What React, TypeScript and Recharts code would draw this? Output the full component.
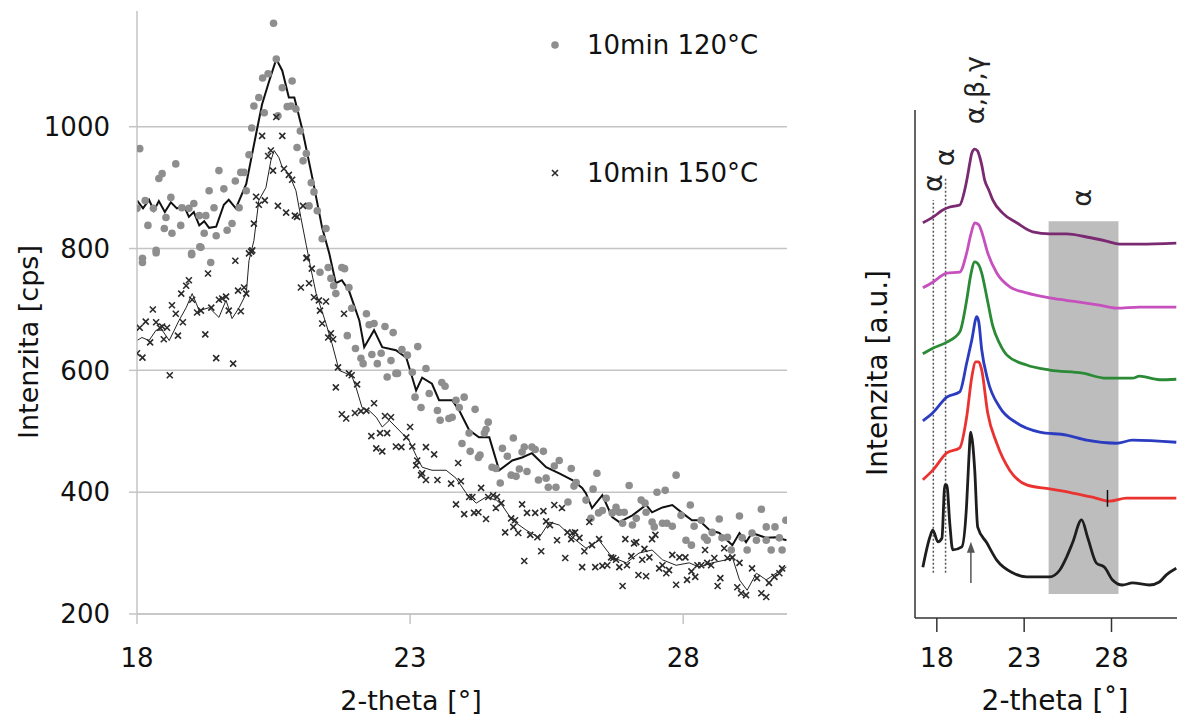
import React from "react"
import {
  ComposedChart,
  LineChart,
  Line,
  Scatter,
  XAxis,
  YAxis,
  CartesianGrid,
  Legend,
  ReferenceArea,
  ReferenceLine,
  ReferenceDot,
} from "recharts"

const FONT = "'DejaVu Sans', sans-serif"

// left panel: measured intensity [cps] against 2-theta
const dots120: [number, number][] = [
  [18.0, 866], [18.05, 964], [18.1, 784], [18.1, 777], [18.15, 879], [18.2, 838], [18.3, 866], [18.35, 797],
  [18.35, 793], [18.4, 915], [18.46, 923], [18.5, 833], [18.53, 851], [18.62, 884], [18.64, 825], [18.71, 939],
  [18.8, 838], [18.82, 867], [18.95, 866], [19.0, 792], [19.0, 790], [19.04, 874], [19.14, 854], [19.15, 803],
  [19.17, 802], [19.23, 825], [19.26, 854], [19.32, 895], [19.35, 777], [19.41, 867], [19.45, 821], [19.5, 928],
  [19.59, 898], [19.65, 830], [19.74, 841], [19.8, 911], [19.87, 867], [19.9, 925], [19.96, 925], [20.0, 895],
  [20.05, 954], [20.1, 998], [20.14, 1034], [20.23, 1048], [20.3, 1080], [20.33, 1023], [20.4, 1087], [20.5, 1170],
  [20.55, 1111], [20.58, 1018], [20.66, 1064], [20.75, 1033], [20.82, 1034], [20.84, 1075], [20.91, 1029], [20.93, 966],
  [20.99, 993], [21.04, 944], [21.1, 956], [21.15, 870], [21.19, 908], [21.24, 893], [21.3, 862], [21.35, 761],
  [21.39, 816], [21.46, 833], [21.5, 769], [21.55, 751], [21.6, 739], [21.64, 726], [21.75, 769], [21.8, 767],
  [21.85, 657], [21.88, 736], [21.93, 702], [22.0, 636], [22.1, 620], [22.14, 611], [22.2, 693], [22.25, 675],
  [22.3, 626], [22.34, 677], [22.4, 611], [22.47, 628], [22.54, 672], [22.58, 589], [22.65, 616], [22.69, 662],
  [22.74, 595], [22.77, 595], [22.85, 634], [22.95, 625], [23.04, 597], [23.09, 556], [23.14, 639], [23.2, 539],
  [23.29, 603], [23.35, 562], [23.5, 534], [23.55, 518], [23.58, 580], [23.64, 574], [23.71, 521], [23.77, 523],
  [23.84, 551], [23.9, 539], [23.95, 480], [23.99, 556], [24.08, 497], [24.1, 467], [24.19, 536], [24.25, 457],
  [24.28, 461], [24.36, 497], [24.39, 503], [24.43, 515], [24.5, 441], [24.57, 439], [24.65, 415], [24.69, 472],
  [24.78, 459], [24.85, 428], [24.89, 489], [24.94, 426], [25.0, 438], [25.05, 466], [25.09, 474], [25.14, 434],
  [25.23, 474], [25.29, 470], [25.35, 420], [25.44, 467], [25.49, 423], [25.53, 408], [25.64, 443], [25.67, 408],
  [25.73, 452], [25.89, 384], [25.95, 439], [26.0, 410], [26.04, 416], [26.22, 387], [26.31, 357], [26.35, 405],
  [26.42, 431], [26.45, 366], [26.52, 370], [26.59, 390], [26.7, 366], [26.77, 375], [26.83, 367], [26.89, 349],
  [26.92, 367], [27.01, 411], [27.07, 346], [27.14, 357], [27.23, 387], [27.3, 382], [27.32, 367], [27.43, 351],
  [27.47, 343], [27.52, 400], [27.62, 349], [27.67, 403], [27.7, 349], [27.8, 344], [27.87, 428], [27.96, 362],
  [28.05, 321], [28.13, 379], [28.15, 313], [28.2, 344], [28.33, 354], [28.39, 326], [28.44, 321], [28.53, 334],
  [28.66, 356], [28.71, 325], [28.81, 326], [28.88, 305], [29.03, 361], [29.08, 325], [29.17, 305], [29.26, 333],
  [29.34, 321], [29.43, 372], [29.52, 343], [29.52, 321], [29.61, 305], [29.68, 343], [29.76, 325], [29.81, 305],
  [29.88, 354],
]

const crosses150: [number, number][] = [
  [18.0, 628], [18.05, 670], [18.1, 621], [18.16, 680], [18.24, 646], [18.29, 700], [18.35, 679], [18.42, 670],
  [18.46, 672], [18.49, 651], [18.55, 670], [18.6, 592], [18.64, 707], [18.71, 693], [18.75, 657], [18.81, 726],
  [18.84, 679], [18.9, 739], [18.95, 748], [19.01, 716], [19.1, 695], [19.17, 698], [19.25, 659], [19.3, 759],
  [19.36, 703], [19.45, 620], [19.5, 716], [19.56, 718], [19.63, 721], [19.68, 698], [19.76, 611], [19.8, 780],
  [19.85, 731], [19.9, 697], [19.96, 736], [20.0, 726], [20.05, 792], [20.09, 795], [20.11, 797], [20.14, 841],
  [20.18, 885], [20.23, 872], [20.29, 985], [20.34, 879], [20.4, 952], [20.45, 961], [20.49, 928], [20.55, 1016],
  [20.58, 870], [20.66, 985], [20.69, 931], [20.73, 859], [20.78, 921], [20.84, 913], [20.89, 854], [20.93, 852],
  [21.0, 736], [21.04, 870], [21.1, 784], [21.11, 785], [21.15, 743], [21.2, 767], [21.24, 720], [21.33, 715],
  [21.35, 698], [21.39, 677], [21.46, 713], [21.5, 654], [21.55, 661], [21.59, 651], [21.64, 572], [21.68, 605],
  [21.75, 528], [21.79, 693], [21.83, 521], [21.88, 595], [21.93, 592], [21.99, 530], [22.03, 577], [22.1, 533],
  [22.2, 534], [22.29, 492], [22.34, 546], [22.38, 472], [22.45, 497], [22.49, 467], [22.54, 525], [22.58, 497],
  [22.65, 523], [22.74, 475], [22.84, 474], [22.93, 490], [23.0, 507], [23.04, 475], [23.11, 444], [23.13, 452],
  [23.2, 428], [23.22, 431], [23.29, 474], [23.29, 420], [23.44, 462], [23.5, 420], [23.75, 414], [23.84, 380],
  [23.88, 448], [23.93, 418], [23.99, 364], [24.08, 392], [24.14, 392], [24.17, 366], [24.25, 367], [24.3, 407],
  [24.39, 356], [24.43, 392], [24.52, 395], [24.57, 374], [24.59, 392], [24.67, 382], [24.74, 334], [24.85, 357],
  [24.89, 343], [24.92, 354], [24.98, 333], [25.05, 380], [25.09, 287], [25.14, 366], [25.2, 330], [25.29, 366],
  [25.33, 326], [25.4, 303], [25.44, 369], [25.49, 352], [25.56, 346], [25.64, 379], [25.69, 321], [25.78, 374],
  [25.84, 292], [25.88, 334], [25.95, 323], [25.97, 333], [26.02, 334], [26.1, 325], [26.15, 277], [26.19, 303],
  [26.28, 351], [26.33, 313], [26.39, 277], [26.46, 323], [26.52, 279], [26.61, 280], [26.68, 293], [26.72, 292],
  [26.77, 289], [26.83, 277], [26.89, 246], [26.94, 323], [26.97, 280], [27.05, 295], [27.1, 316], [27.14, 318],
  [27.18, 264], [27.25, 289], [27.29, 307], [27.32, 262], [27.38, 293], [27.43, 323], [27.49, 330], [27.56, 275],
  [27.62, 280], [27.69, 267], [27.74, 272], [27.8, 297], [27.87, 248], [27.93, 293], [28.04, 293], [28.07, 256],
  [28.15, 270], [28.22, 261], [28.26, 280], [28.33, 280], [28.4, 305], [28.44, 284], [28.51, 280], [28.57, 292],
  [28.63, 246], [28.68, 259], [28.75, 308], [28.81, 292], [28.9, 293], [28.99, 244], [29.03, 284], [29.06, 234],
  [29.15, 231], [29.26, 275], [29.35, 259], [29.43, 234], [29.52, 228], [29.57, 251], [29.67, 261], [29.76, 267],
  [29.81, 275],
]

// smoothed traces drawn through the scatter
const trend120: [number, number][] = [
  [18.0, 879], [18.11, 866], [18.22, 880], [18.31, 862], [18.4, 878], [18.51, 860], [18.62, 876], [18.73, 866],
  [18.86, 870], [18.95, 852], [19.04, 860], [19.14, 838], [19.23, 845], [19.32, 834], [19.45, 836], [19.59, 872],
  [19.68, 880], [19.81, 866], [20.0, 906], [20.18, 988], [20.29, 1037], [20.42, 1075], [20.55, 1111], [20.66, 1092],
  [20.78, 1048], [20.88, 1048], [21.02, 998], [21.21, 916], [21.39, 834], [21.52, 792], [21.64, 743], [21.75, 748],
  [21.88, 731], [22.07, 682], [22.16, 638], [22.34, 666], [22.49, 638], [22.74, 633], [22.93, 621], [23.11, 567],
  [23.22, 588], [23.4, 578], [23.53, 551], [23.77, 551], [23.9, 534], [24.08, 502], [24.26, 490], [24.45, 490],
  [24.63, 436], [24.87, 452], [25.05, 457], [25.23, 464], [25.49, 441], [25.73, 431], [25.97, 420], [26.15, 407],
  [26.22, 398], [26.33, 374], [26.52, 395], [26.7, 359], [26.83, 351], [27.07, 362], [27.32, 379], [27.43, 367],
  [27.62, 375], [27.8, 379], [27.98, 366], [28.16, 354], [28.29, 354], [28.48, 338], [28.66, 333], [28.9, 313],
  [29.03, 333], [29.15, 318], [29.26, 333], [29.52, 325], [29.7, 326], [29.89, 321],
]

const trend150: [number, number][] = [
  [18.0, 649], [18.09, 654], [18.22, 649], [18.35, 666], [18.46, 666], [18.59, 649], [18.77, 682], [18.9, 703],
  [19.01, 726], [19.14, 698], [19.32, 703], [19.5, 687], [19.63, 715], [19.74, 685], [19.87, 703], [20.0, 726],
  [20.05, 780], [20.14, 813], [20.23, 879], [20.36, 900], [20.45, 944], [20.51, 961], [20.6, 949], [20.66, 933],
  [20.78, 923], [20.91, 895], [21.0, 851], [21.1, 805], [21.19, 764], [21.28, 726], [21.46, 677], [21.57, 644],
  [21.7, 600], [21.83, 595], [21.94, 589], [22.01, 572], [22.12, 539], [22.25, 534], [22.38, 523], [22.49, 507],
  [22.62, 518], [22.74, 507], [22.85, 497], [22.98, 485], [23.11, 460], [23.22, 441], [23.4, 436], [23.66, 436],
  [23.84, 423], [24.03, 398], [24.21, 382], [24.39, 392], [24.58, 387], [24.68, 379], [24.87, 354], [25.12, 338],
  [25.36, 325], [25.55, 351], [25.73, 346], [25.97, 326], [26.22, 308], [26.46, 321], [26.7, 293], [26.96, 284],
  [27.19, 300], [27.43, 305], [27.62, 289], [27.87, 280], [28.11, 284], [28.29, 277], [28.53, 284], [28.79, 289],
  [28.9, 293], [29.03, 256], [29.17, 239], [29.34, 267], [29.52, 256], [29.7, 267], [29.89, 277],
]

const leftTicksX = [18, 23, 28]
const leftTicksY = [200, 400, 600, 800, 1000]

// right panel: stacked diffractograms, arbitrary units
const curvePurple: [number, number][] = [
  [17.2, 77.8], [17.77, 78.9], [18.34, 80.3], [18.74, 80.9], [19.31, 81.3], [19.6, 84.3], [19.77, 87.2], [19.89, 89.6],
  [20.0, 91.5], [20.17, 92.3], [20.34, 91.9], [20.46, 90.7], [20.57, 89.2], [20.74, 86.2], [20.97, 84.3], [21.2, 82.3],
  [21.77, 79.7], [22.57, 77.8], [23.49, 76.0], [24.46, 75.6], [25.43, 75.6], [26.57, 75.0], [27.71, 74.2], [28.46, 73.6],
  [29.6, 73.6], [31.71, 73.8],
]
const curveMagenta: [number, number][] = [
  [17.2, 65.0], [17.77, 66.1], [18.57, 67.9], [19.31, 68.1], [19.71, 71.9], [19.94, 75.4], [20.17, 77.8], [20.4, 77.4],
  [20.57, 76.0], [20.91, 71.9], [21.43, 67.9], [22.17, 65.2], [23.14, 64.0], [24.46, 63.0], [26.17, 62.2], [27.31, 61.6],
  [28.29, 61.0], [29.6, 61.2], [31.71, 61.2],
]
const curveGreen: [number, number][] = [
  [17.2, 52.0], [17.77, 53.1], [18.57, 54.3], [19.31, 56.3], [19.71, 62.6], [19.94, 67.5], [20.17, 70.1], [20.4, 69.5],
  [20.57, 67.9], [20.86, 63.2], [21.2, 57.5], [21.6, 54.0], [22.0, 51.8], [23.14, 49.8], [24.46, 48.8], [26.34, 48.2],
  [27.71, 47.2], [29.2, 47.2], [29.6, 47.6], [30.74, 46.9], [31.71, 47.0],
]
const curveBlue: [number, number][] = [
  [17.2, 38.8], [17.77, 40.4], [18.57, 43.5], [19.31, 44.5], [19.71, 50.2], [20.0, 54.7], [20.29, 59.3], [20.4, 58.3],
  [20.57, 52.8], [20.91, 46.9], [21.6, 41.5], [22.57, 38.4], [23.89, 36.6], [25.43, 36.0], [26.57, 35.0], [28.29, 34.4],
  [29.2, 35.0], [31.71, 34.6],
]
const curveRed: [number, number][] = [
  [17.2, 27.2], [17.77, 29.1], [18.57, 32.5], [19.31, 33.5], [19.71, 39.6], [20.0, 47.4], [20.23, 50.4], [20.4, 50.4],
  [20.57, 48.8], [20.91, 40.4], [21.43, 34.4], [22.17, 29.1], [23.14, 26.2], [24.46, 25.4], [25.77, 24.6], [26.91, 23.8],
  [27.89, 23.0], [28.86, 23.6], [31.71, 23.6],
]
const curveBlack: [number, number][] = [
  [17.2, 10.0], [17.6, 15.9], [17.77, 17.3], [18.06, 15.0], [18.29, 15.7], [18.46, 26.2], [18.57, 26.2], [18.74, 18.7],
  [18.91, 13.4], [19.43, 14.0], [19.71, 22.6], [19.83, 31.1], [19.94, 36.6], [20.06, 34.1], [20.17, 29.1], [20.34, 17.9],
  [20.86, 14.8], [21.43, 11.4], [22.34, 8.9], [23.14, 8.1], [24.46, 8.1], [25.03, 9.4], [25.43, 12.0], [25.77, 14.8],
  [26.29, 19.3], [26.63, 15.9], [27.14, 10.8], [27.6, 10.0], [28.06, 7.5], [28.63, 6.5], [29.2, 6.9], [30.17, 6.5],
  [30.74, 7.1], [31.14, 8.5], [31.71, 9.8],
]
const rightTicksX = [18, 23, 28]

const pts = (arr: [number, number][]) => arr.map(([x, y]) => ({ x, y }))

const Dot120 = (p: any) => <circle cx={p.cx} cy={p.cy} r={3.8} fill="#8e8e8e" />
const Cross150 = (p: any) => (
  <path
    d={`M${p.cx - 3},${p.cy - 3}L${p.cx + 3},${p.cy + 3}M${p.cx - 3},${p.cy + 3}L${p.cx + 3},${p.cy - 3}`}
    stroke="#2b2b2b"
    strokeWidth={1.6}
  />
)

function LeftLegend(props: any) {
  const items = (props.payload || []).filter((e: any) => e.type !== "none")
  return (
    <svg width={260} height={190}>
      {items.map((e: any, i: number) => {
        const cy = 23 + i * 128
        return (
          <g key={e.value}>
            {e.type === "circle" ? (
              <circle cx={15} cy={cy} r={3.8} fill="#8e8e8e" />
            ) : (
              <path d={`M12,${cy - 3}L18,${cy + 3}M12,${cy + 3}L18,${cy - 3}`} stroke="#2b2b2b" strokeWidth={1.6} />
            )}
            <text x={47} y={cy} dominantBaseline="central" fontFamily={FONT} fontSize={26} fill="#111">
              {e.value}
            </text>
          </g>
        )
      })}
    </svg>
  )
}

const rotText = (txt: string, size = 27) => (p: any) => (
  <text
    x={p.cx}
    y={p.cy}
    transform={`rotate(-90 ${p.cx} ${p.cy})`}
    textAnchor="middle"
    dominantBaseline="central"
    fontFamily={FONT}
    fontSize={size}
    fill="#222"
  >
    {txt}
  </text>
)

export default function App() {
  const gridGray = "#c4c4c4"
  return (
    <div style={{ position: "fixed", left: 0, top: 0, width: 1177, height: 722, background: "#fff" }}>
      <div style={{ position: "absolute", left: 0, top: 0 }}>
        <ComposedChart width={800} height={722} margin={{ top: 11, right: 13, bottom: 0, left: 0 }}>
          <CartesianGrid vertical={false} horizontalValues={leftTicksY} stroke={gridGray} strokeWidth={1.5} />
          <XAxis
            type="number"
            dataKey="x"
            domain={[18, 29.9]}
            ticks={leftTicksX}
            allowDataOverflow
            height={108}
            tickSize={10}
            tickMargin={25}
            axisLine={{ stroke: gridGray, strokeWidth: 1.5 }}
            tickLine={{ stroke: gridGray, strokeWidth: 1.5 }}
            tick={{ fontFamily: FONT, fontSize: 26, fill: "#111" }}
            label={{
              content: () => (
                <text x={411} y={700} textAnchor="middle" dominantBaseline="central" fontFamily={FONT} fontSize={27} fill="#111">
                  2-theta [°]
                </text>
              ),
            }}
          />
          <YAxis
            type="number"
            dataKey="y"
            domain={[200, 1190]}
            ticks={leftTicksY}
            allowDataOverflow
            width={137}
            tickSize={8}
            tickMargin={19}
            axisLine={{ stroke: gridGray, strokeWidth: 1.5 }}
            tickLine={{ stroke: gridGray, strokeWidth: 1.5 }}
            tick={{ fontFamily: FONT, fontSize: 26, fill: "#111" }}
            label={{
              content: () => (
                <text
                  x={28}
                  y={342}
                  transform="rotate(-90 28 342)"
                  textAnchor="middle"
                  dominantBaseline="central"
                  fontFamily={FONT}
                  fontSize={27}
                  fill="#111"
                >
                  Intenzita [cps]
                </text>
              ),
            }}
          />
          <Scatter name="10min 120°C" data={pts(dots120)} shape={Dot120} legendType="circle" isAnimationActive={false} />
          <Scatter name="10min 150°C" data={pts(crosses150)} shape={Cross150} legendType="cross" isAnimationActive={false} />
          <Line
            data={pts(trend120)}
            dataKey="y"
            stroke="#111"
            strokeWidth={2}
            dot={false}
            legendType="none"
            isAnimationActive={false}
          />
          <Line
            data={pts(trend150)}
            dataKey="y"
            stroke="#222"
            strokeWidth={1}
            dot={false}
            legendType="none"
            isAnimationActive={false}
          />
          <Legend
            layout="horizontal"
            verticalAlign="middle"
            align="center"
            content={LeftLegend}
            wrapperStyle={{ left: 540, top: 22, width: 260, height: 190 }}
          />
        </ComposedChart>
      </div>

      <div style={{ position: "absolute", left: 840, top: 0 }}>
        <LineChart width={337} height={722} margin={{ top: 110, right: 0, bottom: 0, left: 0 }}>
          <ReferenceArea x1={24.4} x2={28.4} y1={4.7} y2={78.1} fill="#bdbdbd" fillOpacity={1} stroke="none" />
          <XAxis
            type="number"
            dataKey="x"
            domain={[16.75, 31.75]}
            ticks={rightTicksX}
            allowDataOverflow
            height={104}
            tickSize={14}
            tickMargin={16}
            axisLine={{ stroke: "#333", strokeWidth: 1.5 }}
            tickLine={{ stroke: "#333", strokeWidth: 1.5 }}
            tick={{ fontFamily: FONT, fontSize: 27, fill: "#111" }}
            label={{
              content: () => (
                <text x={215} y={700} textAnchor="middle" dominantBaseline="central" fontFamily={FONT} fontSize={28} fill="#111">
                  2-theta [˚]
                </text>
              ),
            }}
          />
          <YAxis
            type="number"
            dataKey="y"
            domain={[0, 100]}
            allowDataOverflow
            width={75}
            tick={false}
            tickLine={false}
            axisLine={{ stroke: "#333", strokeWidth: 1.5 }}
            label={{
              content: () => (
                <text
                  x={37}
                  y={373}
                  transform="rotate(-90 37 373)"
                  textAnchor="middle"
                  dominantBaseline="central"
                  fontFamily={FONT}
                  fontSize={28}
                  fill="#111"
                >
                  Intenzita [a.u.]
                </text>
              ),
            }}
          />
          <ReferenceLine
            segment={[{ x: 17.8, y: 8.9 }, { x: 17.8, y: 82.3 }]}
            stroke="#555"
            strokeWidth={1.5}
            strokeDasharray="2 2"
            ifOverflow="visible"
          />
          <ReferenceLine
            segment={[{ x: 18.5, y: 8.9 }, { x: 18.5, y: 86.6 }]}
            stroke="#555"
            strokeWidth={1.5}
            strokeDasharray="2 2"
            ifOverflow="visible"
          />
          <Line data={pts(curvePurple)} dataKey="y" type="monotone" stroke="#7b2a72" strokeWidth={2.8} dot={false} isAnimationActive={false} />
          <Line data={pts(curveMagenta)} dataKey="y" type="monotone" stroke="#c650bd" strokeWidth={2.8} dot={false} isAnimationActive={false} />
          <Line data={pts(curveGreen)} dataKey="y" type="monotone" stroke="#2a8a35" strokeWidth={2.8} dot={false} isAnimationActive={false} />
          <Line data={pts(curveBlue)} dataKey="y" type="monotone" stroke="#2b3cc0" strokeWidth={2.8} dot={false} isAnimationActive={false} />
          <Line data={pts(curveRed)} dataKey="y" type="monotone" stroke="#ea3330" strokeWidth={2.8} dot={false} isAnimationActive={false} />
          <Line data={pts(curveBlack)} dataKey="y" type="monotone" stroke="#1e1e1e" strokeWidth={2.8} dot={false} isAnimationActive={false} />
          <ReferenceLine segment={[{ x: 27.77, y: 21.9 }, { x: 27.77, y: 25.2 }]} stroke="#111" strokeWidth={1.5} />
          <ReferenceLine segment={[{ x: 19.95, y: 6.9 }, { x: 19.95, y: 13.2 }]} stroke="#555" strokeWidth={1.5} />
          <ReferenceDot
            x={19.95}
            y={15.0}
            ifOverflow="visible"
            shape={(p: any) => <path d={`M${p.cx},${p.cy} l-4,11 l8,0 z`} fill="#555" />}
          />
          <ReferenceDot x={17.77} y={85.6} ifOverflow="visible" shape={rotText("α")} />
          <ReferenceDot x={18.46} y={90.7} ifOverflow="visible" shape={rotText("α")} />
          <ReferenceDot x={20.17} y={103.9} ifOverflow="visible" shape={rotText("α,β,γ")} />
          <ReferenceDot x={26.29} y={82.7} ifOverflow="visible" shape={rotText("α")} />
        </LineChart>
      </div>
    </div>
  )
}
